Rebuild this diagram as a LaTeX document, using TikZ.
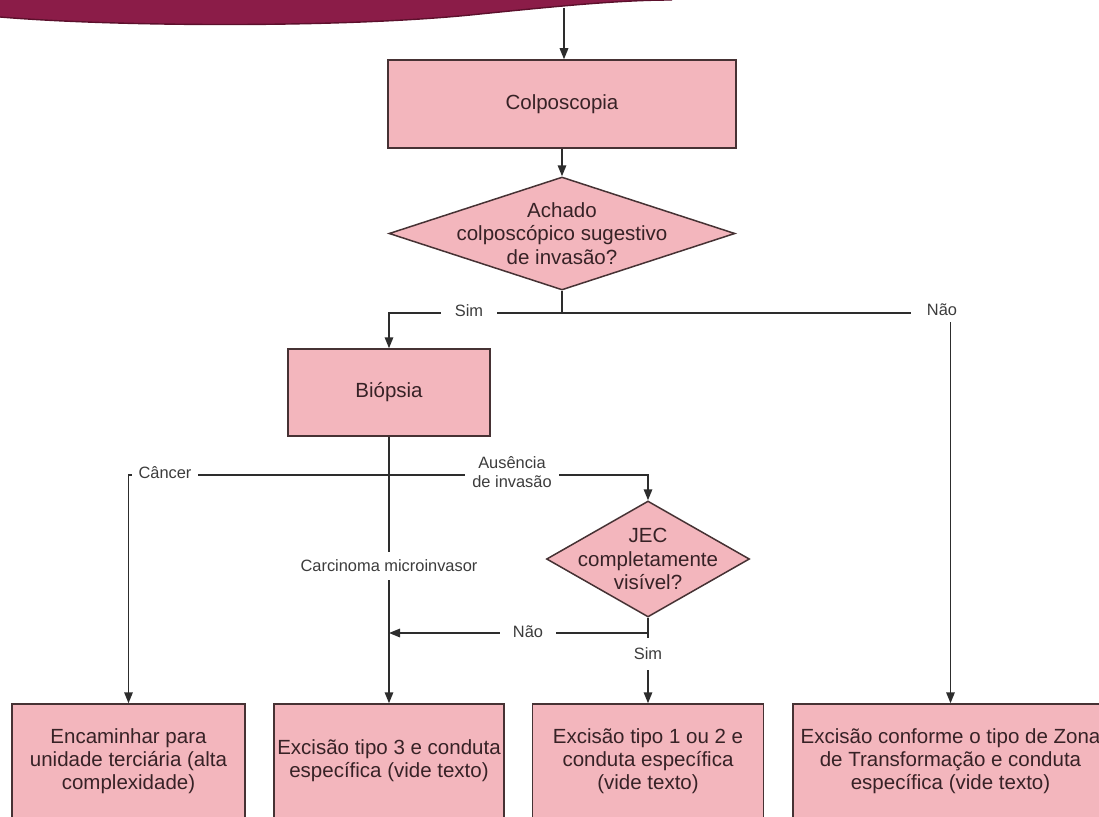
\documentclass[tikz,border=0pt]{standalone}
\usepackage{fontspec}
\setmainfont{Liberation Sans}
\usetikzlibrary{shapes.geometric,arrows.meta}

\definecolor{boxpink}{RGB}{243,182,189}
\definecolor{boxline}{RGB}{70,50,52}
\definecolor{wire}{RGB}{45,45,45}
\definecolor{ink}{RGB}{55,34,38}
\definecolor{labelink}{RGB}{60,60,60}
\definecolor{bannerfill}{RGB}{139,28,72}
\definecolor{banneredge}{RGB}{92,16,44}

\begin{document}
\begin{tikzpicture}[x=1pt,y=-1pt,
  stepbox/.style={draw=boxline, line width=1.5pt, fill=boxpink, text=ink,
    align=center, inner sep=0pt, font=\fontsize{20.5}{22.8}\selectfont},
  choice/.style={shape=diamond, draw=boxline, line width=1.5pt, fill=boxpink,
    inner sep=0pt},
  choicetext/.style={text=ink, align=center, inner sep=0pt,
    font=\fontsize{20.5}{23.8}\selectfont},
  link/.style={draw=wire, line width=1.6pt},
  flow/.style={link, -{Triangle[length=11pt,width=8.5pt]}},
  lbl/.style={fill=white, text=labelink, align=center, inner sep=6pt,
    font=\fontsize{16.4}{19.5}\selectfont}
]
\useasboundingbox (0,0) rectangle (1099,816);

% title band
\fill[bannerfill] (0,0) -- (0,17)
  .. controls (120,27) and (350,28) .. (480,14)
  .. controls (560,6) and (620,0) .. (672,0) -- cycle;
\draw[banneredge, line width=1.4pt] (0,17)
  .. controls (120,27) and (350,28) .. (480,14)
  .. controls (560,6) and (620,0) .. (672,0);
\coordinate (bandexit) at (564,8);

% boxes
\node[stepbox, minimum width=348pt, minimum height=88pt] (colp) at (562,104) {Colposcopia};
\node[choice, minimum width=346pt, minimum height=113pt] (q1) at (562,233.5) {};
\node[choicetext] (q1t) at (q1) {Achado\\colposcópico sugestivo\\de invasão?};
\node[stepbox, minimum width=202pt, minimum height=87pt] (bio) at (389,392.5) {Biópsia};
\node[choice, minimum width=203pt, minimum height=116pt] (q2) at (648,559) {};
\node[choicetext] (q2t) at (q2) {JEC\\completamente\\visível?};

\node[stepbox, minimum width=233pt, minimum height=114pt] (b1) at (128.5,761)
  {Encaminhar para\\unidade terciária (alta\\complexidade)};
\node[stepbox, minimum width=230pt, minimum height=114pt] (b2) at (389,761)
  {Excisão tipo 3 e conduta\\específica (vide texto)};
\node[stepbox, minimum width=231pt, minimum height=114pt] (b3) at (648,761)
  {Excisão tipo 1 ou 2 e\\conduta específica\\(vide texto)};
\node[stepbox, minimum width=315pt, minimum height=114pt] (b4) at (950.5,761)
  {Excisão conforme o tipo de Zona\\de Transformação e conduta\\específica (vide texto)};

% junction points
\coordinate (split1) at (562,313);
\coordinate (split2) at (389,475);
\coordinate (split3) at (648,633);

% connectors
\draw[flow] (bandexit) -- (bandexit |- colp.north);
\draw[flow] (colp.south) -- (q1.north);
\draw[flow] (q1.south) -- (split1) -| (bio.north);
\draw[flow] (split1) -| (b4.north);
\draw[flow] (bio.south) -- (b2.north);
\draw[flow] (split2) -| (b1.north);
\draw[flow] (split2) -| (q2.north);
\draw[flow] (q2.south) -- (b3.north);
\draw[flow] (split3) -- (split3 -| bio.south);

% branch labels
\node[lbl, inner xsep=14pt] (simA) at (469,311) {Sim};
\node[lbl, inner xsep=16pt, inner ysep=6pt] (naoA) at (942,310) {Não};
\node[lbl, inner xsep=7pt] (canc) at (165,473) {Câncer};
\node[lbl, inner xsep=7pt] (aus) at (512,472) {Ausência\\de invasão};
\node[lbl, inner xsep=2pt, inner ysep=8pt] (carc) at (389,566) {Carcinoma microinvasor};
\node[lbl, inner xsep=13pt] (naoB) at (528,632) {Não};
\node[lbl, inner xsep=3pt, inner ysep=10pt] (simB) at (648,654) {Sim};
\end{tikzpicture}
\end{document}
